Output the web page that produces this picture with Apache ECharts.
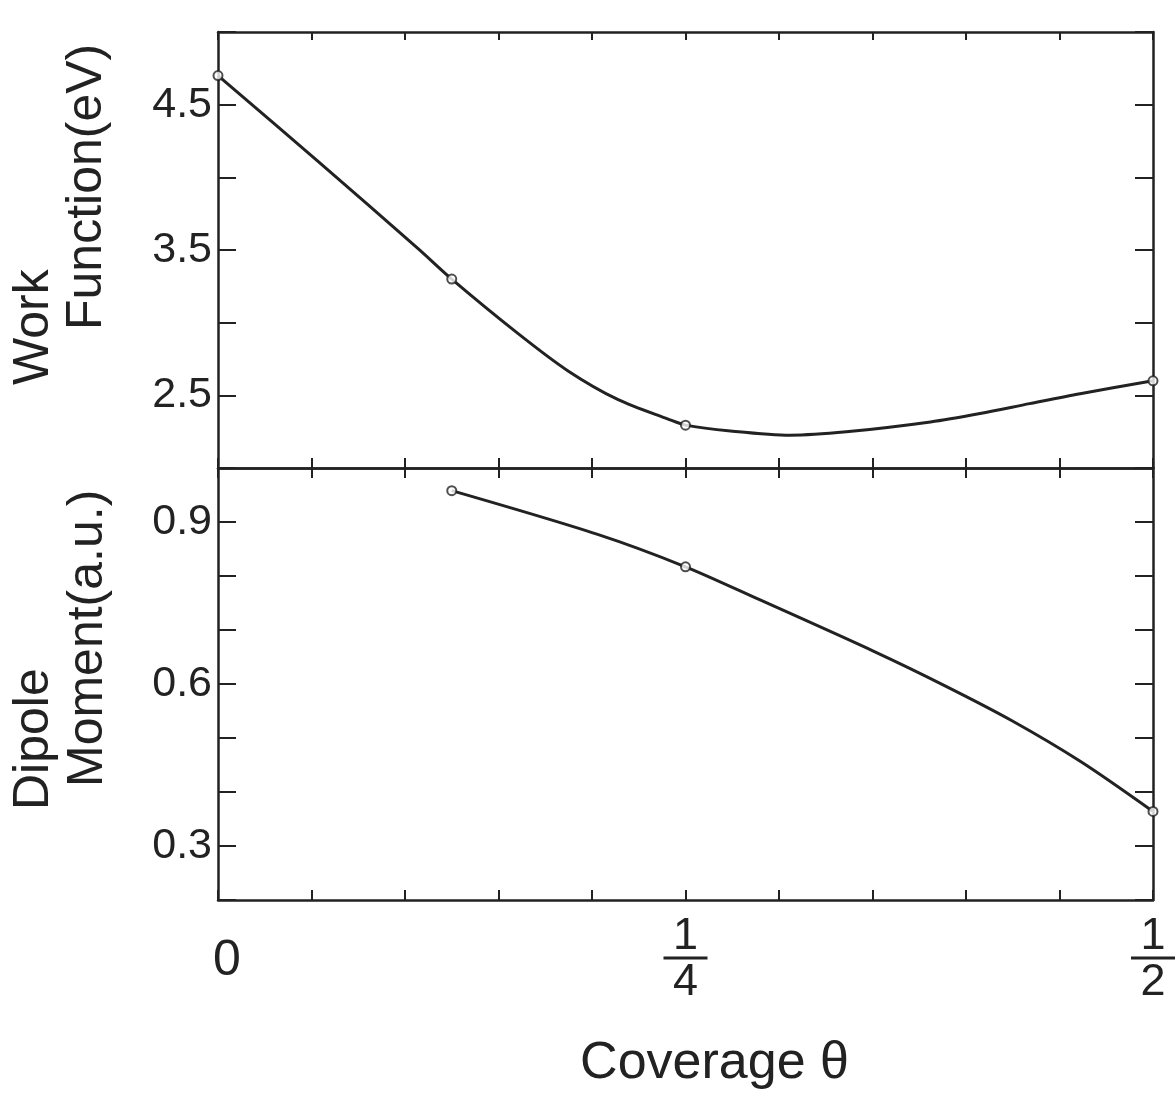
<!DOCTYPE html>
<html><head><meta charset="utf-8">
<script src="https://cdn.jsdelivr.net/npm/echarts@6/dist/echarts.min.js"></script>
<style>html,body{margin:0;padding:0;background:#fff}#c{width:1176px;height:1094px}</style>
</head><body><div id="c"></div>
<script>
// Work function curve
const workCurveTheta = [0, 0.0535, 0.107, 0.125, 0.160, 0.187, 0.214, 0.241, 0.25, 0.274, 0.306, 0.336, 0.381, 0.4075, 0.434, 0.461, 0.5];
const workCurveValue = [4.70, 4.11, 3.51, 3.30, 2.93, 2.67, 2.47, 2.335, 2.295, 2.255, 2.226, 2.249, 2.317, 2.375, 2.443, 2.511, 2.60];
const workPointTheta = [0, 0.125, 0.25, 0.5];
const workPointValue = [4.70, 3.30, 2.295, 2.60];
// Dipole moment curve
const dipoleCurveTheta = [0.125, 0.203, 0.25, 0.289, 0.351, 0.388, 0.4246, 0.4615, 0.5];
const dipoleCurveValue = [0.958, 0.877, 0.817, 0.757, 0.660, 0.598, 0.532, 0.456, 0.364];
const dipolePointTheta = [0.125, 0.25, 0.5];
const dipolePointValue = [0.958, 0.817, 0.364];
// Tick labels
const workTickLabels = [2.5, 3.5, 4.5];
const dipoleTickLabels = [0.3, 0.6, 0.9];
const xLabelValues = [0, 0.25, 0.5];
const xLabelNum = ['0', '1', '1'];
const xLabelDen = ['', '4', '2'];

const zip = (a, b) => a.map((v, i) => [v, b[i]]);
const FONT = 'Liberation Sans';
const INK = '#222';
const near = (v, arr) => arr.findIndex(t => Math.abs(t - v) < 1e-6);
const axisLine = { show: true, onZero: false, lineStyle: { color: INK, width: 2.5 } };

function xAx(grid, pos, tickLen, labels) {
  return {
    type: 'value', gridIndex: grid, position: pos, min: 0, max: 0.5, interval: 0.05,
    axisLine, splitLine: { show: false },
    axisTick: { show: true, inside: true, length: tickLen, lineStyle: { color: INK, width: 2 } },
    axisLabel: labels ? {
      show: true, margin: 18, showMinLabel: true, showMaxLabel: true,
      formatter: v => {
        const i = near(v, xLabelValues);
        if (i < 0) return '';
        if (!xLabelDen[i]) return '{z|' + xLabelNum[i] + '}';
        return '{n|' + xLabelNum[i] + '}\n{b| }\n{d|' + xLabelDen[i] + '}';
      },
      rich: {
        z: { fontFamily: FONT, fontSize: 50, color: INK, lineHeight: 86, padding: [0, 0, 0, 18] },
        n: { fontFamily: FONT, fontSize: 45, color: INK, lineHeight: 38, align: 'center' },
        b: { width: 44, height: 3, lineHeight: 4, backgroundColor: INK, fontSize: 2, align: 'center' },
        d: { fontFamily: FONT, fontSize: 45, color: INK, lineHeight: 46, align: 'center' }
      }
    } : { show: false },
    name: labels ? 'Coverage θ' : '', nameLocation: 'middle', nameGap: 138,
    nameTextStyle: { fontFamily: FONT, fontSize: 52, color: INK, padding: [0, 0, 0, 58] }
  };
}
function yAx(grid, pos, min, max, interval, tickLabels) {
  return {
    type: 'value', gridIndex: grid, position: pos, min, max, interval,
    axisLine, splitLine: { show: false },
    axisTick: { show: true, inside: true, length: 18, lineStyle: { color: INK, width: 2 } },
    axisLabel: tickLabels ? {
      show: true, margin: 6, showMinLabel: true, showMaxLabel: true,
      fontFamily: FONT, fontSize: 43, color: INK,
      formatter: v => { const i = near(v, tickLabels); return i < 0 ? '' : tickLabels[i].toFixed(1); }
    } : { show: false }
  };
}
function rotText(text, x, y) {
  return {
    type: 'text', x, y, rotation: Math.PI / 2,
    style: { text, fontFamily: FONT, fontSize: 50, fill: INK, align: 'left', verticalAlign: 'middle' }
  };
}
const lineStyle = { color: INK, width: 3 };
const markStyle = { color: '#fff', borderColor: INK, borderWidth: 2 };

const chart = echarts.init(document.getElementById('c'), null, { renderer: 'canvas' });
chart.setOption({
  backgroundColor: '#fff',
  animation: false,
  grid: [
    { left: 218, top: 32, width: 935, height: 436, containLabel: false, outerBoundsMode: 'none' },
    { left: 218, top: 468, width: 935, height: 432, containLabel: false, outerBoundsMode: 'none' }
  ],
  xAxis: [
    xAx(0, 'top', 8, false),
    xAx(0, 'bottom', 10, false),
    xAx(1, 'top', 10, false),
    xAx(1, 'bottom', 10, true)
  ],
  yAxis: [
    yAx(0, 'left', 2.0, 5.0, 0.5, workTickLabels),
    yAx(0, 'right', 2.0, 5.0, 0.5, null),
    yAx(1, 'left', 0.2, 1.0, 0.1, dipoleTickLabels),
    yAx(1, 'right', 0.2, 1.0, 0.1, null)
  ],
  graphic: [
    rotText('Work', 34, 385),
    rotText('Function(eV)', 87, 330),
    rotText('Dipole', 34, 810),
    rotText('Moment(a.u.)', 88, 787)
  ],
  series: [
    { type: 'line', xAxisIndex: 1, yAxisIndex: 0, data: zip(workCurveTheta, workCurveValue), smooth: 0.3, showSymbol: false, lineStyle, clip: false },
    { type: 'scatter', xAxisIndex: 1, yAxisIndex: 0, data: zip(workPointTheta, workPointValue), symbol: 'circle', symbolSize: 9, itemStyle: markStyle, clip: false, z: 5 },
    { type: 'line', xAxisIndex: 3, yAxisIndex: 2, data: zip(dipoleCurveTheta, dipoleCurveValue), smooth: 0.3, showSymbol: false, lineStyle, clip: false },
    { type: 'scatter', xAxisIndex: 3, yAxisIndex: 2, data: zip(dipolePointTheta, dipolePointValue), symbol: 'circle', symbolSize: 9, itemStyle: markStyle, clip: false, z: 5 }
  ]
});
</script>
</body></html>
